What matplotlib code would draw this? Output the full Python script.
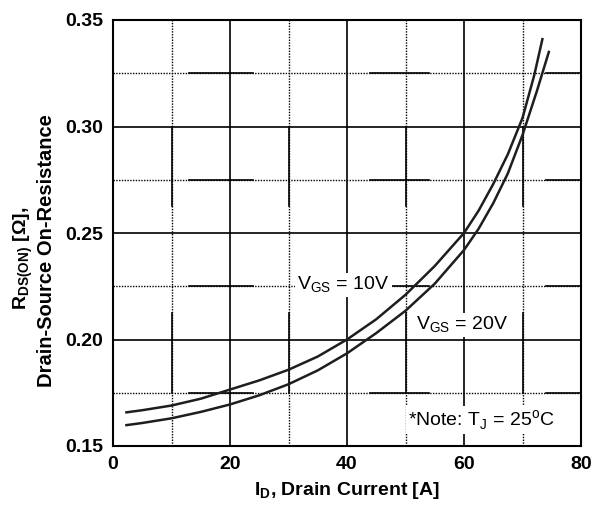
import matplotlib
matplotlib.use("Agg")
import matplotlib.pyplot as plt

# fonts
plt.rcParams["font.family"] = ["Liberation Sans", "DejaVu Sans"]
plt.rcParams["mathtext.fontset"] = "custom"
plt.rcParams["mathtext.rm"] = "Liberation Sans"
plt.rcParams["mathtext.bf"] = "Liberation Sans:bold"

# data
id_10v = [2.3, 5, 10, 15, 20, 25, 30, 35, 40, 45, 50, 55, 60, 62.5, 65, 67.5, 70, 72, 73.4]
rds_10v = [0.1658, 0.1668, 0.1690, 0.1722, 0.1765, 0.1808, 0.1858, 0.1920, 0.2000, 0.2095,
           0.2210, 0.2345, 0.2500, 0.2605, 0.2730, 0.2870, 0.3040, 0.3240, 0.3410]

id_20v = [2.3, 5, 10, 15, 20, 25, 30, 35, 40, 45, 50, 55, 60, 62.5, 65, 67.5, 70, 72.5, 74.5]
rds_20v = [0.1598, 0.1608, 0.1630, 0.1660, 0.1695, 0.1738, 0.1790, 0.1855, 0.1935, 0.2030,
           0.2135, 0.2262, 0.2420, 0.2520, 0.2640, 0.2780, 0.2960, 0.3170, 0.3350]

x_ticks = [0, 20, 40, 60, 80]
y_ticks = [0.15, 0.20, 0.25, 0.30, 0.35]
x_minor = [10, 30, 50, 70]
y_minor = [0.175, 0.225, 0.275, 0.325]

fig = plt.figure(figsize=(5.94, 5.08), dpi=100)
ax = fig.add_axes([113 / 594, 62 / 508, 468 / 594, 426 / 508])
ax.set_xlim(0, 80)
ax.set_ylim(0.15, 0.35)

# grid - major solid, minor dotted with a few solid pieces like the scan
for x in x_ticks[1:-1]:
    ax.axvline(x, color="black", lw=1.2, zorder=1)
for y in y_ticks[1:-1]:
    ax.axhline(y, color="black", lw=1.2, zorder=1)

for x in x_minor:
    ax.plot([x, x], [0.15, 0.35], color="black", lw=1.0, ls=(0, (1, 1)), zorder=1)
    for y0, y1 in [(0.2625, 0.30), (0.175, 0.2125)]:
        ax.plot([x, x], [y0, y1], color="black", lw=1.2, zorder=1)
for y in y_minor:
    ax.plot([0, 80], [y, y], color="black", lw=1.0, ls=(0, (1, 1)), zorder=1)
    for x0, x1 in [(13, 24), (44, 54), (74, 80)]:
        ax.plot([x0, x1], [y, y], color="black", lw=1.2, zorder=1)

# curves
ax.plot(id_10v, rds_10v, color="#1e1e1e", lw=1.8, zorder=3)
ax.plot(id_20v, rds_20v, color="#1e1e1e", lw=1.8, zorder=3)

box = dict(facecolor="white", edgecolor="none", pad=1.5)
ax.text(39.4, 0.2256, r"V$_{\mathrm{GS}}$ = 10V", fontsize=14, ha="center", va="center",
        bbox=box, zorder=4)
ax.text(59.7, 0.2068, r"V$_{\mathrm{GS}}$ = 20V", fontsize=14, ha="center", va="center",
        bbox=box, zorder=4)
ax.text(63.0, 0.1622, r"*Note: T$_{\mathrm{J}}$ = 25$^{\mathrm{o}}$C", fontsize=14,
        ha="center", va="center", bbox=box, zorder=4)

# axes
for s in ax.spines.values():
    s.set_linewidth(1.5)
    s.set_zorder(5)
ax.set_xticks(x_ticks)
ax.set_yticks(y_ticks)
ax.set_xticklabels([str(v) for v in x_ticks], fontsize=14, fontweight="bold")
ax.set_yticklabels([f"{v:.2f}" for v in y_ticks], fontsize=14, fontweight="bold")
ax.tick_params(length=0, pad=7)

ax.set_xlabel(r"I$_{\mathbf{D}}$, Drain Current [A]", fontsize=14, fontweight="bold", labelpad=5)
fig.text(23 / 594, 1 - 258 / 508, r"R$_{\mathbf{DS(ON)}}$ [$\mathbf{\Omega}$],", fontsize=14,
         fontweight="bold", rotation=90, ha="center", va="center")
fig.text(47 / 594, 1 - 251 / 508, "Drain-Source On-Resistance", fontsize=14.5,
         fontweight="bold", rotation=90, ha="center", va="center")

fig.savefig("out.png", dpi=100, facecolor="white")
